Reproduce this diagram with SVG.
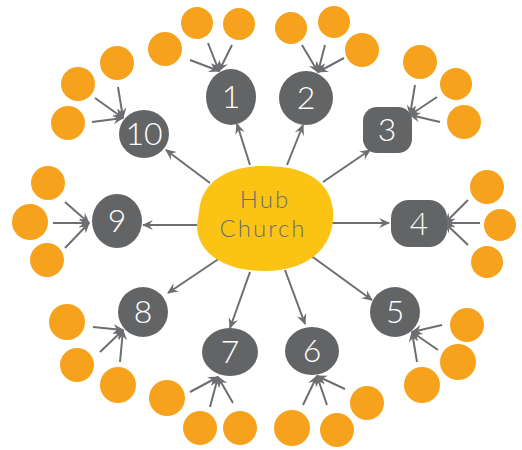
<svg xmlns="http://www.w3.org/2000/svg" width="522" height="450" viewBox="0 0 522 450">
<defs>
<marker id="ah" viewBox="0 0 10 10" refX="9" refY="5" markerWidth="11" markerHeight="11" markerUnits="userSpaceOnUse" orient="auto">
<path d="M0,0.5 L10,5 L0,9.5 L3.5,5 Z" fill="#6d6e71"/>
</marker>
<style>
.c line{stroke:#6d6e71;stroke-width:2;marker-end:url(#ah)}
.n{fill:#636466}
.t{fill:#ffffff;font-family:Lato,"Open Sans",sans-serif;font-weight:300;font-size:32px;text-anchor:middle}
.d{fill:#f7a21c}
.h{fill:#6d6e71;font-family:Lato,"Open Sans",sans-serif;font-weight:300;font-size:24px;letter-spacing:2px;text-anchor:middle}
</style>
</defs>
<rect width="522" height="450" fill="#ffffff"/>
<g id="dots">
<circle class="d" cx="165" cy="49" r="17"/><circle class="d" cx="197" cy="23" r="16"/><circle class="d" cx="239" cy="24" r="16"/>
<circle class="d" cx="291" cy="28" r="16"/><circle class="d" cx="334" cy="22" r="16"/><circle class="d" cx="362" cy="50" r="17"/>
<circle class="d" cx="420" cy="62" r="17"/><circle class="d" cx="456" cy="84" r="16"/><circle class="d" cx="464" cy="122" r="17"/>
<circle class="d" cx="117" cy="63" r="17"/><circle class="d" cx="78" cy="84" r="17"/><circle class="d" cx="68" cy="123" r="17"/>
<circle class="d" cx="48" cy="183" r="17"/><circle class="d" cx="30" cy="222" r="18"/><circle class="d" cx="47" cy="260" r="17"/>
<circle class="d" cx="487" cy="187" r="17"/><circle class="d" cx="500" cy="225" r="16"/><circle class="d" cx="487" cy="262" r="16"/>
<circle class="d" cx="67" cy="322" r="18"/><circle class="d" cx="77" cy="365" r="17"/><circle class="d" cx="118" cy="385" r="18"/>
<circle class="d" cx="167" cy="398" r="18"/><circle class="d" cx="200" cy="428" r="17"/><circle class="d" cx="240" cy="428" r="17"/>
<circle class="d" cx="292" cy="428" r="18"/><circle class="d" cx="337" cy="430" r="17"/><circle class="d" cx="367" cy="403" r="17"/>
<circle class="d" cx="467" cy="325" r="17"/><circle class="d" cx="458" cy="362" r="18"/><circle class="d" cx="422" cy="385" r="18"/>
</g>
<g id="connectors" class="c">
<line x1="250" y1="165" x2="237" y2="124"/>
<line x1="287" y1="165" x2="303" y2="125"/>
<line x1="323" y1="182" x2="370" y2="150"/>
<line x1="332" y1="223" x2="389" y2="223"/>
<line x1="310" y1="255" x2="372" y2="300"/>
<line x1="285" y1="270" x2="305" y2="324"/>
<line x1="250" y1="272" x2="230" y2="328"/>
<line x1="220" y1="258" x2="168" y2="293"/>
<line x1="197" y1="225" x2="143" y2="225"/>
<line x1="210" y1="183" x2="166" y2="150"/>
<line x1="190" y1="60" x2="219" y2="71"/><line x1="208" y1="43" x2="219" y2="71"/><line x1="232" y1="45" x2="219" y2="71"/>
<line x1="302" y1="45" x2="318" y2="72"/><line x1="325" y1="45" x2="318" y2="72"/><line x1="344" y1="58" x2="318" y2="72"/>
<line x1="415" y1="85" x2="410" y2="115"/><line x1="437" y1="97" x2="410" y2="115"/><line x1="440" y1="122" x2="410" y2="115"/>
<line x1="95" y1="98" x2="123" y2="118"/><line x1="118" y1="87" x2="123" y2="118"/><line x1="92" y1="122" x2="123" y2="118"/>
<line x1="65" y1="202" x2="89" y2="223"/><line x1="53" y1="223" x2="89" y2="223"/><line x1="65" y1="248" x2="89" y2="223"/>
<line x1="468" y1="200" x2="445" y2="223"/><line x1="480" y1="223" x2="445" y2="223"/><line x1="468" y1="245" x2="445" y2="223"/>
<line x1="93" y1="327" x2="123" y2="330"/><line x1="100" y1="352" x2="123" y2="330"/><line x1="120" y1="362" x2="123" y2="330"/>
<line x1="190" y1="392" x2="218" y2="377"/><line x1="210" y1="407" x2="218" y2="377"/><line x1="233" y1="403" x2="218" y2="377"/>
<line x1="303" y1="405" x2="317" y2="376"/><line x1="327" y1="405" x2="317" y2="376"/><line x1="345" y1="389" x2="317" y2="376"/>
<line x1="442" y1="325" x2="412" y2="332"/><line x1="438" y1="350" x2="412" y2="332"/><line x1="417" y1="362" x2="412" y2="332"/>
</g>
<g id="hub">
<path d="M200,205 C205,180 230,166 262,166 C300,165 330,178 333,210 C336,245 310,270 268,271 C228,272 197,255 197,225 Z" fill="#fbc314"/>
<text class="h" x="265" y="208">Hub</text>
<text class="h" x="263" y="237">Church</text>
</g>
<g id="node1"><ellipse class="n" cx="231" cy="97" rx="25" ry="28"/><text class="t" x="231" y="108">1</text></g>
<g id="node2"><ellipse class="n" cx="306" cy="98" rx="27" ry="27"/><text class="t" x="306" y="109">2</text></g>
<g id="node3"><rect class="n" x="363" y="107" width="49" height="46" rx="14"/><text class="t" x="387" y="141">3</text></g>
<g id="node4"><rect class="n" x="391" y="200" width="56" height="47" rx="18"/><text class="t" x="419" y="235">4</text></g>
<g id="node5"><ellipse class="n" cx="395" cy="312" rx="25" ry="25"/><text class="t" x="395" y="323">5</text></g>
<g id="node6"><ellipse class="n" cx="312" cy="351" rx="27" ry="24"/><text class="t" x="312" y="362">6</text></g>
<g id="node7"><ellipse class="n" cx="230" cy="352" rx="28" ry="24"/><text class="t" x="230" y="363">7</text></g>
<g id="node8"><ellipse class="n" cx="143" cy="312" rx="25" ry="25"/><text class="t" x="143" y="323">8</text></g>
<g id="node9"><ellipse class="n" cx="117" cy="221" rx="25" ry="27"/><text class="t" x="117" y="232">9</text></g>
<g id="node10"><ellipse class="n" cx="144" cy="134" rx="25" ry="24"/><text class="t" x="144" y="145">10</text></g>
</svg>
